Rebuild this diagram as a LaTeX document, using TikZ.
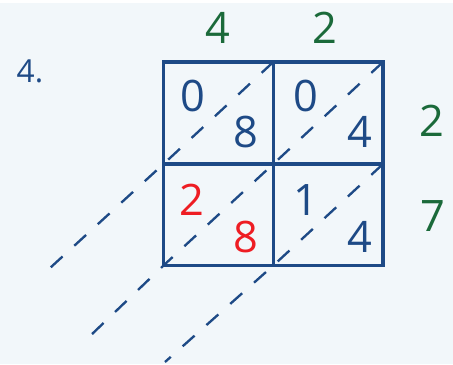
\documentclass[tikz,border=0pt]{standalone}
\usepackage{fontspec}
\setmainfont{Open Sans}
\usetikzlibrary{calc}

\definecolor{bgpale}{HTML}{F2F7FA}
\definecolor{lineblue}{HTML}{1E4A86}
\definecolor{digitgreen}{HTML}{1B6A3A}
\definecolor{digitred}{HTML}{EE1D23}

\begin{document}
\begin{tikzpicture}[x=0.03cm, y=-0.03cm]
    \tikzstyle{every node}=[font=\fontsize{37}{41}\selectfont, inner sep=0pt]
    \tikzstyle{cell}=[text=lineblue]
    \tikzstyle{factor}=[text=digitgreen]
    \tikzstyle{carry}=[text=digitred]
    \tikzstyle{diag}=[lineblue, line width=2pt, dash pattern=on 13.6pt off 13.6pt]

      % background
      \fill[bgpale] (0,3) rectangle (453,364);
      \useasboundingbox (0,0) rectangle (453,364);

      % corners of the grid
      \coordinate (A) at (163.5,62);
      \coordinate (B) at (273.3,62);
      \coordinate (C) at (383,62);
      \coordinate (D) at (163.5,164);
      \coordinate (E) at (273.3,164);
      \coordinate (F) at (383,164);
      \coordinate (G) at (163.5,265.5);
      \coordinate (H) at (273.3,265.5);
      \coordinate (I) at (383,265.5);

      % free ends of the diagonals
      \coordinate (P) at (50,268);
      \coordinate (Q) at (90,336);
      \coordinate (R) at (165,362);

      % draw diagonals
      \draw[diag] (B)--(D)--(P);
      \draw[diag] (C)--(E)--(G)--(Q);
      \draw[diag] (F)--(H)--(R);

      % draw grid
      \draw[lineblue, line width=2.6pt] (A) rectangle (I);
      \draw[lineblue, line width=2.6pt] (B)--(H);
      \draw[lineblue, line width=2.6pt] (D)--(F);

      % number of the exercise
      \node[cell, font=\fontsize{27}{31}\selectfont] (num) at (30,71) {4.};

      % factors
      \node[factor] (ta) at (218,28) {4};
      \node[factor] (tb) at (325,28) {2};
      \node[factor] (ra) at (432,121) {2};
      \node[factor] (rb) at (433,216) {7};

      % products
      \node[cell] (p1t) at (193,95.5) {0};
      \node[cell] (p1u) at (246,132) {8};
      \node[cell] (p2t) at (306,95.5) {0};
      \node[cell] (p2u) at (360,132) {4};
      \node[carry] (p3t) at (192,200) {2};
      \node[carry] (p3u) at (246,237) {8};
      \node[cell] (p4t) at (306,200) {1};
      \node[cell] (p4u) at (360,237) {4};

    \end{tikzpicture}
\end{document}
